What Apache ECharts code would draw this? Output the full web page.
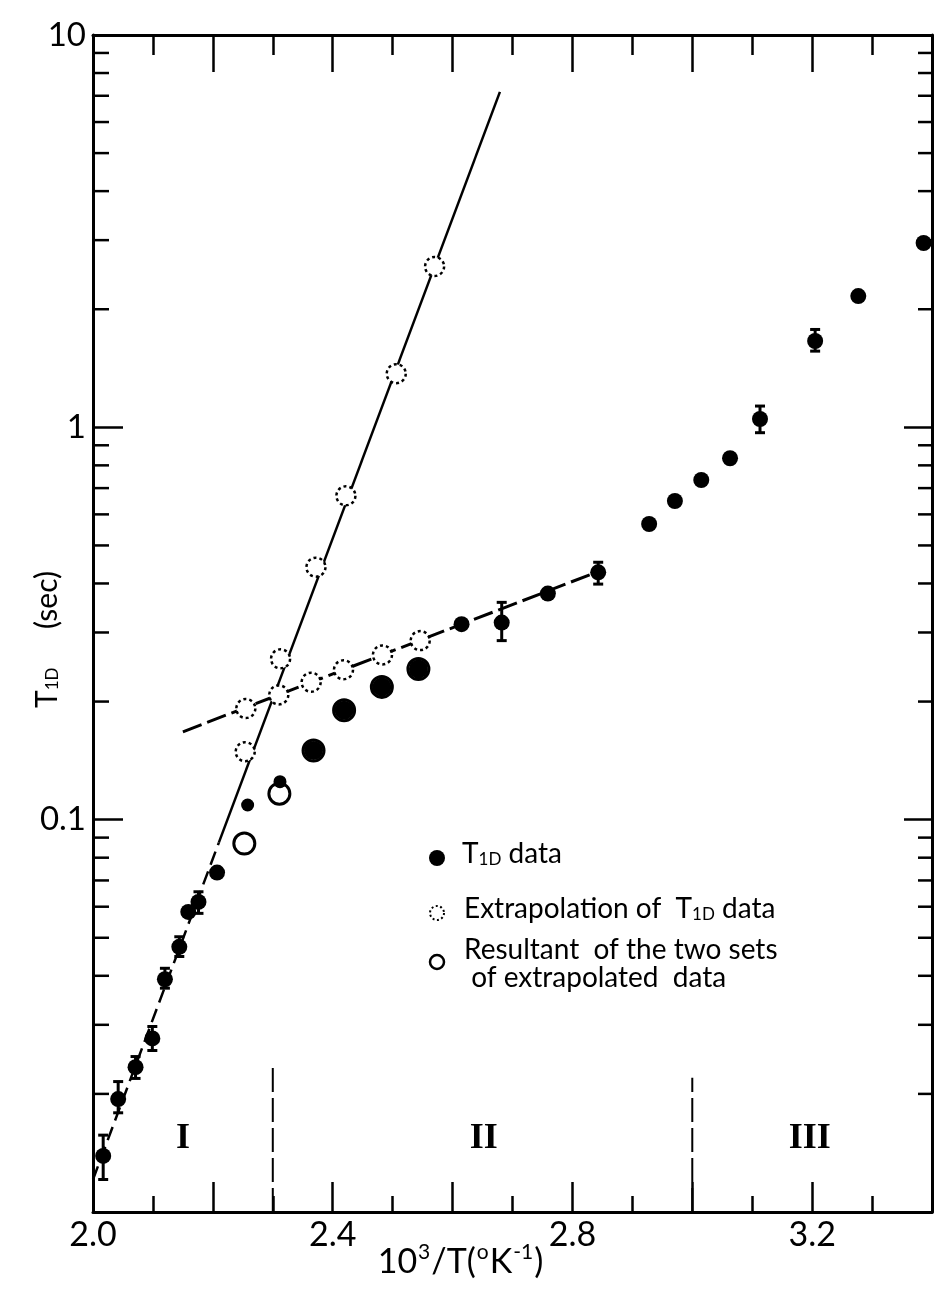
<!DOCTYPE html>
<html>
<head>
<meta charset="utf-8">
<script src="https://cdn.jsdelivr.net/npm/echarts@6/dist/echarts.min.js"></script>
<style>
  html, body { margin: 0; padding: 0; background: #fff; }
  #chart { width: 940px; height: 1290px; }
</style>
</head>
<body>
<div id="chart"></div>
<script>
// T1D data (filled dots)
const t1dX = [2.017, 2.042, 2.071, 2.099, 2.120, 2.144, 2.159, 2.176, 2.207,
  2.615, 2.682, 2.759, 2.843, 2.928, 2.971, 3.015, 3.063, 3.113, 3.205, 3.277, 3.386];
const t1dY = [0.0139, 0.0194, 0.0234, 0.0277, 0.0392, 0.0474, 0.0582, 0.0617, 0.0733,
  0.315, 0.318, 0.377, 0.427, 0.567, 0.649, 0.734, 0.834, 1.05, 1.66, 2.16, 2.95];
// smaller filled dots near the knee
const t1dSmallX = [2.258, 2.312];
const t1dSmallY = [0.109, 0.125];
// filled dots that sit inside the resultant circles
const t1dLargeX = [2.368, 2.419, 2.482, 2.543];
const t1dLargeY = [0.150, 0.190, 0.218, 0.242];

// error bars: x, low, high
const errX = [2.017, 2.042, 2.071, 2.099, 2.120, 2.144, 2.176, 2.682, 2.843, 3.113, 3.205];
const errLow = [0.0121, 0.0179, 0.0219, 0.0258, 0.0372, 0.0448, 0.0577, 0.286, 0.3985, 0.969, 1.564];
const errHigh = [0.0157, 0.0215, 0.0249, 0.0297, 0.0418, 0.0503, 0.0655, 0.358, 0.453, 1.133, 1.776];

// extrapolation of T1D data (dotted circles)
const steepX = [2.254, 2.313, 2.372, 2.422, 2.506, 2.570];
const steepY = [0.149, 0.257, 0.440, 0.669, 1.37, 2.57];
const shallowX = [2.255, 2.310, 2.364, 2.418, 2.483, 2.546];
const shallowY = [0.192, 0.208, 0.224, 0.241, 0.263, 0.286];

// resultant of the two sets (open circles)
const resX = [2.2525, 2.311, 2.368, 2.419, 2.482, 2.543];
const resY = [0.0869, 0.1165, 0.150, 0.190, 0.218, 0.242];

// fitted lines
const steepDashX = [2.0, 2.21];
const steepDashY = [0.0121, 0.0874];
const steepSolidX = [2.21, 2.679];
const steepSolidY = [0.0874, 7.16];
const shallowLineX = [2.150, 2.854];
const shallowLineY = [0.1675, 0.4355];

// region boundaries and labels
const boundaryX = [2.3, 3.0];
const boundaryTop = [0.0235, 0.0220];
const regionX = [2.150, 2.652, 3.196];
const regionY = [0.0154, 0.0154, 0.0154];
const regionLabels = ["I", "II", "III"];

// log minor tick values
const minorTicks = [0.02, 0.03, 0.04, 0.05, 0.06, 0.07, 0.08, 0.09,
  0.2, 0.3, 0.4, 0.5, 0.6, 0.7, 0.8, 0.9,
  2, 3, 4, 5, 6, 7, 8, 9];

const xMin = 2.0, xMax = 3.4, yMin = 0.01, yMax = 10;
const font = "Lato, 'DejaVu Sans', sans-serif";
const black = "#000";

function zip(xs, ys) {
  return xs.map((x, i) => [x, ys[i]]);
}

const chart = echarts.init(document.getElementById("chart"));

const legendRich = {
  t: { fontFamily: font, fontSize: 28, fill: black, lineHeight: 32, verticalAlign: "bottom" },
  s: { fontFamily: font, fontSize: 17, fill: black, lineHeight: 24, verticalAlign: "bottom" },
};

const option = {
  backgroundColor: "#fff",
  animation: false,
  grid: { left: 93, right: 8, top: 35, bottom: 78 },
  xAxis: [
    {
      type: "value",
      min: xMin,
      max: xMax,
      interval: 0.2,
      position: "bottom",
      name: "10{sup|3}/T({sup|o}K{sup|-1})",
      nameLocation: "middle",
      nameGap: 30,
      nameMoveOverlap: false,
      nameTextStyle: {
        fontFamily: font,
        fontSize: 34,
        color: black,
        padding: [0, 104, 0, 0],
        rich: {
          sup: { fontFamily: font, fontSize: 21, color: black, padding: [0, 1, 20, 1] },
        },
      },
      axisLine: { lineStyle: { color: black, width: 3 } },
      axisTick: { inside: true, length: 30, lineStyle: { color: black, width: 2.5 } },
      minorTick: { show: true, splitNumber: 2, length: 16, lineStyle: { color: black, width: 2.5 } },
      splitLine: { show: false },
      axisLabel: {
        margin: 6,
        fontFamily: font,
        fontSize: 34,
        color: black,
        formatter: function (v) {
          const k = Math.round(v * 10);
          return k % 4 === 0 ? (k / 10).toFixed(1) : "";
        },
      },
    },
    {
      type: "value",
      min: xMin,
      max: xMax,
      interval: 0.2,
      position: "top",
      axisLine: { lineStyle: { color: black, width: 3 } },
      axisTick: { inside: true, length: 37, lineStyle: { color: black, width: 2.5 } },
      minorTick: { show: true, splitNumber: 2, length: 20, lineStyle: { color: black, width: 2.5 } },
      splitLine: { show: false },
      axisLabel: { show: false },
    },
  ],
  yAxis: [
    {
      type: "log",
      logBase: 10,
      min: yMin,
      max: yMax,
      position: "left",
      name: "T{s|1D}     (sec)",
      nameLocation: "middle",
      nameGap: 31,
      nameMoveOverlap: false,
      nameRotate: 90,
      nameTextStyle: {
        fontFamily: font,
        fontSize: 30,
        color: black,
        padding: [0, 32, 0, 0],
        rich: {
          s: { fontFamily: font, fontSize: 17, color: black, padding: [12, 0, 0, 0] },
        },
      },
      axisLine: { lineStyle: { color: black, width: 3 } },
      axisTick: { inside: true, length: 30, lineStyle: { color: black, width: 2.5 } },
      splitLine: { show: false },
      axisLabel: {
        margin: 7,
        fontFamily: font,
        fontSize: 33,
        color: black,
        formatter: function (v) {
          const s = +Number(v).toPrecision(3);
          if (s === 10) return "10";
          if (s === 1) return "1";
          if (s === 0.1) return "0.1";
          return "";
        },
      },
    },
    {
      type: "log",
      logBase: 10,
      min: yMin,
      max: yMax,
      position: "right",
      axisLine: { lineStyle: { color: black, width: 3 } },
      axisTick: { inside: true, length: 28, lineStyle: { color: black, width: 2.5 } },
      splitLine: { show: false },
      axisLabel: { show: false },
    },
  ],
  series: [
    {
      // minor log ticks on both vertical axes
      type: "custom",
      silent: true,
      data: minorTicks.map((v) => [xMin, v]),
      renderItem: function (params, api) {
        const l = api.coord([xMin, api.value(1)]);
        const r = api.coord([xMax, api.value(1)]);
        const st = { stroke: black, lineWidth: 2.5 };
        return {
          type: "group",
          children: [
            { type: "line", shape: { x1: l[0], y1: l[1], x2: l[0] + 16, y2: l[1] }, style: st },
            { type: "line", shape: { x1: r[0], y1: r[1], x2: r[0] - 14, y2: r[1] }, style: st },
          ],
        };
      },
      z: 1,
    },
    {
      type: "line",
      data: zip(steepDashX, steepDashY),
      symbol: "none",
      lineStyle: { color: black, width: 2.5, type: [14, 7] },
      z: 2,
    },
    {
      type: "line",
      data: zip(steepSolidX, steepSolidY),
      symbol: "none",
      lineStyle: { color: black, width: 2.5 },
      z: 2,
    },
    {
      type: "line",
      data: zip(shallowLineX, shallowLineY),
      symbol: "none",
      lineStyle: { color: black, width: 3, type: [20, 6] },
      z: 2,
    },
    // region boundaries
    ...boundaryX.map((x, i) => ({
      type: "line",
      data: [[x, yMin], [x, boundaryTop[i]]],
      symbol: "none",
      lineStyle: { color: black, width: 2, type: [24, 6] },
      z: 2,
    })),
    {
      type: "scatter",
      data: regionX.map((x, i) => [x, regionY[i], regionLabels[i]]),
      symbolSize: 0,
      itemStyle: { opacity: 1 },
      label: {
        show: true,
        position: "inside",
        formatter: (p) => p.value[2],
        fontFamily: "'Liberation Serif', 'DejaVu Serif', serif",
        fontWeight: "bold",
        fontSize: 36,
        color: black,
        opacity: 1,
      },
      z: 3,
    },
    {
      // error bars
      type: "custom",
      data: errX.map((x, i) => [x, errLow[i], errHigh[i]]),
      renderItem: function (params, api) {
        const x = api.value(0);
        const lo = api.coord([x, api.value(1)]);
        const hi = api.coord([x, api.value(2)]);
        const c = 5;
        const st = { stroke: black, lineWidth: 3 };
        return {
          type: "group",
          children: [
            { type: "line", shape: { x1: hi[0], y1: hi[1], x2: lo[0], y2: lo[1] }, style: st },
            { type: "line", shape: { x1: hi[0] - c, y1: hi[1], x2: hi[0] + c, y2: hi[1] }, style: st },
            { type: "line", shape: { x1: lo[0] - c, y1: lo[1], x2: lo[0] + c, y2: lo[1] }, style: st },
          ],
        };
      },
      z: 4,
    },
    {
      name: "Extrapolation steep",
      type: "scatter",
      data: zip(steepX, steepY),
      symbol: "circle",
      symbolSize: 19,
      itemStyle: { color: "#fff", opacity: 1, borderColor: black, borderWidth: 2.5, borderType: [3, 3] },
      z: 5,
    },
    {
      name: "Extrapolation shallow",
      type: "scatter",
      data: zip(shallowX, shallowY),
      symbol: "circle",
      symbolSize: 19,
      itemStyle: { color: "#fff", opacity: 1, borderColor: black, borderWidth: 2.5, borderType: [3, 3] },
      z: 5,
    },
    {
      name: "Resultant",
      type: "scatter",
      data: zip(resX, resY),
      symbol: "circle",
      symbolSize: 21,
      itemStyle: { color: "#fff", opacity: 1, borderColor: black, borderWidth: 3 },
      z: 5,
    },
    {
      name: "T1D data",
      type: "scatter",
      data: zip(t1dX, t1dY),
      symbol: "circle",
      symbolSize: 16,
      itemStyle: { color: black, opacity: 1 },
      clip: false,
      z: 6,
    },
    {
      type: "scatter",
      data: zip(t1dSmallX, t1dSmallY),
      symbol: "circle",
      symbolSize: 13,
      itemStyle: { color: black, opacity: 1 },
      z: 6,
    },
    {
      type: "scatter",
      data: zip(t1dLargeX, t1dLargeY),
      symbol: "circle",
      symbolSize: 19,
      itemStyle: { color: black, opacity: 1 },
      z: 6,
    },
  ],
  graphic: [
    { type: "circle", shape: { cx: 437, cy: 858, r: 8 }, style: { fill: black } },
    {
      type: "text",
      left: 462,
      top: 840,
      style: { text: "{t|T}{s|1D}{t| data}", rich: legendRich },
    },
    {
      type: "circle",
      shape: { cx: 437, cy: 913, r: 7 },
      style: { fill: "#fff", stroke: black, lineWidth: 2, lineDash: [2, 2.5] },
    },
    {
      type: "text",
      left: 464,
      top: 895,
      style: { text: "{t|Extrapolation of  T}{s|1D}{t| data}", rich: legendRich },
    },
    {
      type: "circle",
      shape: { cx: 437, cy: 962, r: 7 },
      style: { fill: "#fff", stroke: black, lineWidth: 2.5 },
    },
    {
      type: "text",
      left: 464,
      top: 936,
      style: {
        text: "Resultant  of the two sets\n of extrapolated  data",
        fontFamily: font,
        fontSize: 28,
        lineHeight: 28,
        fill: black,
      },
    },
  ],
};

chart.setOption(option);
</script>
</body>
</html>
